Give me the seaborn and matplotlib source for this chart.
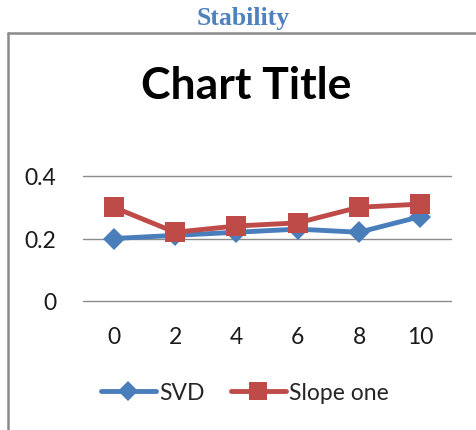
import matplotlib
matplotlib.use("Agg")
import matplotlib.pyplot as plt
import seaborn as sns
import pandas as pd
from matplotlib.lines import Line2D

# Data
steps = ["0", "2", "4", "6", "8", "10"]
svd = [0.20, 0.21, 0.22, 0.23, 0.22, 0.27]
slope_one = [0.30, 0.22, 0.24, 0.25, 0.30, 0.31]
y_ticks = [0, 0.2, 0.4]
y_tick_labels = ["0", "0.2", "0.4"]

df = pd.DataFrame({
    "step": steps * 2,
    "value": svd + slope_one,
    "method": ["SVD"] * len(steps) + ["Slope one"] * len(steps),
})

sns.set_theme(style="white")
plt.rcParams["font.family"] = ["Lato", "DejaVu Sans"]

W, H = 476, 431
fig = plt.figure(figsize=(W / 100, H / 100), dpi=100)

def fx(px):
    return px / W

def fy(py):
    return 1 - py / H

# Outer chart frame (left and top edges visible)
fig.add_artist(Line2D([fx(8), fx(8)], [fy(34), fy(431)], color="#8a8a8a", lw=1.8))
fig.add_artist(Line2D([fx(8), fx(476)], [fy(34), fy(34)], color="#8a8a8a", lw=1.8))

# Caption above the frame
fig.text(fx(243), fy(19), "Stability", ha="center", va="center",
         fontsize=18.5, fontweight="bold", color="#4F81BD",
         family=["Liberation Serif", "DejaVu Serif"])

# Chart title
fig.text(fx(246), fy(86), "Chart Title", ha="center", va="center",
         fontsize=32, fontweight="bold", color="black")

ax = fig.add_axes([fx(83), fy(302), fx(451) - fx(83), fy(177) - fy(302)])

colors = {"SVD": "#4A7EBB", "Slope one": "#BE4B48"}
markers = {"SVD": "D", "Slope one": "s"}
msizes = {"SVD": 11, "Slope one": 15}
for name in ["SVD", "Slope one"]:
    sub = df[df["method"] == name]
    sns.lineplot(data=sub, x="step", y="value", ax=ax, color=colors[name],
                 marker=markers[name], markersize=msizes[name], lw=3.5,
                 markeredgewidth=0, sort=False, clip_on=False, label=name,
                 zorder=3 if name == "Slope one" else 2)

ax.set_xlim(-0.5, len(steps) - 0.5)
ax.set_ylim(0, 0.4)
ax.set_yticks(y_ticks)
ax.set_yticklabels(y_tick_labels)
ax.yaxis.grid(True, color="#8c8c8c", lw=1)
for gl in ax.get_ygridlines():
    gl.set_clip_on(False)
ax.xaxis.grid(False)
for s in ax.spines.values():
    s.set_visible(False)
ax.set_xlabel("")
ax.set_ylabel("")
ax.tick_params(axis="both", length=0, labelsize=16.5, colors="#1a1a1a")
ax.tick_params(axis="y", pad=19)
ax.tick_params(axis="x", pad=18)

handles = [
    Line2D([], [], color=colors["SVD"], marker="D", markersize=10, lw=3.5, markeredgewidth=0),
    Line2D([], [], color=colors["Slope one"], marker="s", markersize=13, lw=3.5, markeredgewidth=0),
]
ax.legend(handles, ["SVD", "Slope one"], loc="center", bbox_to_anchor=(0.44, -0.73),
          ncol=2, frameon=False, fontsize=16.5, handlelength=2.4, handletextpad=0.15,
          columnspacing=1.15)

fig.savefig("out.png", dpi=100)
